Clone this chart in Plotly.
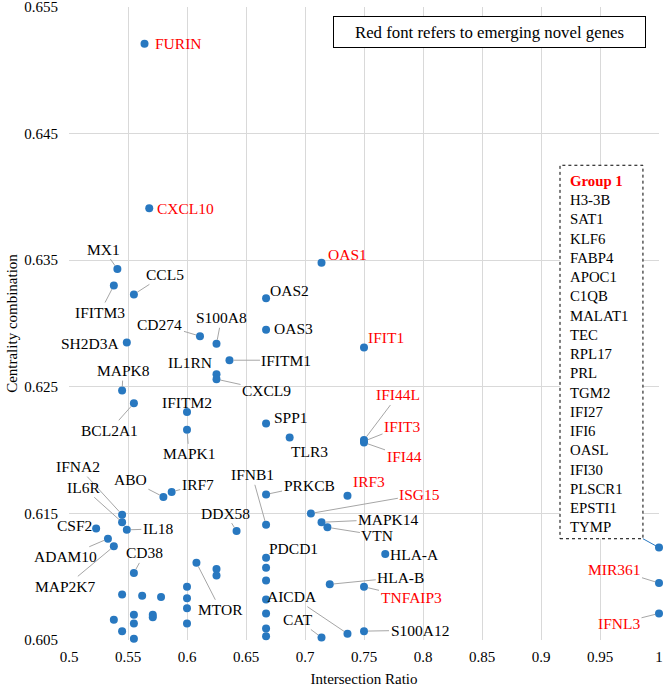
import plotly.graph_objects as go

# labelled genes: name, intersection ratio, centrality combination
genes = ["FURIN", "CXCL10", "MX1", "IFITM3", "CCL5", "OAS1", "OAS2", "OAS3",
         "CD274", "S100A8", "SH2D3A", "IFIT1", "IFITM1", "IL1RN", "CXCL9",
         "MAPK8", "BCL2A1", "IFITM2", "SPP1", "MAPK1", "TLR3", "IFI44L",
         "IFIT3", "IFI44", "ABO", "IRF7", "PRKCB", "IRF3", "IFNA2", "IL6R",
         "ISG15", "IL18", "CSF2", "IFNB1", "MAPK14", "VTN", "DDX58", "ADAM10",
         "MAP2K7", "HLA-A", "PDCD1", "MTOR", "CD38", "HLA-B", "TNFAIP3",
         "AICDA", "S100A12", "CAT", "MIR361", "IFNL3"]
ratio = [0.564, 0.568, 0.541, 0.538, 0.555, 0.714, 0.667, 0.667,
         0.611, 0.625, 0.549, 0.750, 0.636, 0.625, 0.625,
         0.545, 0.555, 0.600, 0.667, 0.600, 0.687, 0.750,
         0.750, 0.750, 0.580, 0.587, 0.667, 0.736, 0.545, 0.545,
         0.705, 0.549, 0.523, 0.667, 0.714, 0.719, 0.642, 0.533,
         0.538, 0.768, 0.667, 0.608, 0.555, 0.721, 0.750,
         0.736, 0.750, 0.714, 1.0, 1.0]
centrality = [0.6521, 0.6391, 0.6343, 0.6330, 0.6323, 0.6348, 0.6320, 0.6295,
              0.6290, 0.6284, 0.6285, 0.6281, 0.6271, 0.6260, 0.6256,
              0.6247, 0.6237, 0.6230, 0.6221, 0.6216, 0.6210, 0.6208,
              0.6207, 0.6206, 0.6163, 0.6167, 0.6165, 0.6164, 0.6149, 0.6143,
              0.6150, 0.6137, 0.6138, 0.6141, 0.6143, 0.6139, 0.6136, 0.6130,
              0.6124, 0.6118, 0.6115, 0.6111, 0.6103, 0.6094, 0.6092,
              0.6055, 0.6057, 0.6052, 0.6095, 0.6071]
novel = ["FURIN", "CXCL10", "OAS1", "IFIT1", "IFI44L", "IFIT3", "IFI44",
         "IRF3", "ISG15", "TNFAIP3", "MIR361", "IFNL3"]

# unlabelled genes
other_ratio = [0.625, 0.625, 0.667, 0.667, 0.667, 0.667, 0.667, 0.667,
               0.545, 0.562, 0.578, 0.600, 0.600, 0.600, 0.600, 0.538,
               0.555, 0.555, 0.571, 0.571, 0.545, 0.555]
other_centrality = [0.6106, 0.6101, 0.6107, 0.6097, 0.6082, 0.6071, 0.6059, 0.6053,
                    0.6086, 0.6085, 0.6084, 0.6092, 0.6083, 0.6075, 0.6063, 0.6066,
                    0.6070, 0.6063, 0.6070, 0.6068, 0.6057, 0.6051]

# group 1 point (genes sharing the same position)
group_ratio = 1.0
group_centrality = 0.6123
group_genes = ["H3-3B", "SAT1", "KLF6", "FABP4", "APOC1", "C1QB", "MALAT1",
               "TEC", "RPL17", "PRL", "TGM2", "IFI27", "IFI6", "OASL", "IFI30",
               "PLSCR1", "EPSTI1", "TYMP"]

# label offsets in pixels (dx, dy), and whether a leader line is drawn
label_pos = {
    "FURIN": (34, 0, False), "CXCL10": (36, 0, False), "MX1": (-14, -20, True),
    "IFITM3": (-14, 27, True), "CCL5": (31, -20, True), "OAS1": (26, -8, False),
    "OAS2": (23, -8, False), "OAS3": (27, -1, False), "CD274": (-40, -12, True),
    "S100A8": (5, -26, True), "SH2D3A": (-36, 1, False), "IFIT1": (22, -10, False),
    "IFITM1": (57, 0, True), "IL1RN": (-27, -12, False), "CXCL9": (50, 11, True),
    "MAPK8": (1, -20, True), "BCL2A1": (-24, 27, True), "IFITM2": (0, -10, False),
    "SPP1": (25, -6, False), "MAPK1": (2, 24, True), "TLR3": (20, 14, False),
    "IFI44L": (34, -45, True), "IFIT3": (38, -15, True), "IFI44": (40, 14, True),
    "ABO": (-33, -17, True), "IRF7": (26, -7, True), "PRKCB": (43, -9, True),
    "IRF3": (22, -14, False), "IFNA2": (-44, -48, True), "IL6R": (-39, -35, True),
    "ISG15": (109, -19, True), "IL18": (31, -1, True), "CSF2": (-22, -3, False),
    "IFNB1": (-14, -50, True), "MAPK14": (67, -3, True), "VTN": (50, 8, True),
    "DDX58": (-11, -18, True), "ADAM10": (-42, 18, True), "MAP2K7": (-48, 40, True),
    "HLA-A": (29, 1, False), "PDCD1": (27, -9, False), "MTOR": (24, 47, True),
    "CD38": (11, -20, True), "HLA-B": (71, -7, True), "TNFAIP3": (47, 11, True),
    "AICDA": (-55, -37, True), "S100A12": (56, -1, True), "CAT": (-24, -18, True),
    "MIR361": (-45, -14, True), "IFNL3": (-40, 10, True),
}

blue = "#2878C0"
font = "Times New Roman, Liberation Serif, DejaVu Serif, serif"

fig = go.Figure()
fig.add_trace(go.Scatter(
    x=ratio + other_ratio + [group_ratio],
    y=centrality + other_centrality + [group_centrality],
    mode="markers",
    marker=dict(color=blue, size=8),
    cliponaxis=False,
    hoverinfo="skip",
))

for g, xv, yv in zip(genes, ratio, centrality):
    dx, dy, leader = label_pos[g]
    color = "#FF0000" if g in novel else "#000000"
    if leader:
        fig.add_annotation(x=xv, y=yv, text=g, showarrow=True, ax=dx, ay=dy,
                           arrowhead=0, arrowwidth=1, arrowcolor="#A6A6A6",
                           standoff=4, font=dict(family=font, size=15.5, color=color))
    else:
        fig.add_annotation(x=xv, y=yv, text=g, showarrow=False,
                           xshift=dx, yshift=-dy,
                           font=dict(family=font, size=15.5, color=color))

# group 1 box
fig.add_shape(type="rect", x0=0.9161, x1=0.9864, y0=0.6130, y1=0.6425,
              line=dict(color="#000000", width=1, dash="dot"), fillcolor="white",
              layer="above")
fig.add_shape(type="line", x0=0.9864, y0=0.6130, x1=group_ratio, y1=group_centrality,
              line=dict(color=blue, width=1))
group_text = "<span style='color:#FF0000'><b>Group 1</b></span><br>" + "<br>".join(group_genes)
fig.add_annotation(xref="paper", yref="paper", x=0.8458, y=0.7417,
                   xanchor="left", yanchor="top", align="left", showarrow=False,
                   text=group_text, font=dict(family=font, size=14.8, color="#000000"))

# note box
fig.add_annotation(x=0.856, y=0.6530, text="Red font refers to emerging novel genes",
                   showarrow=False, width=309, height=28, borderpad=1,
                   bordercolor="#000000", borderwidth=1, bgcolor="white",
                   font=dict(family=font, size=16.8, color="#000000"))

fig.update_layout(
    width=664, height=687,
    margin=dict(l=69, r=5, t=7, b=47),
    paper_bgcolor="white", plot_bgcolor="white",
    showlegend=False,
    font=dict(family=font, size=15, color="#000000"),
)
fig.update_xaxes(range=[0.5, 1.0], dtick=0.05, tick0=0.5, showgrid=True,
                 gridcolor="#D9D9D9", zeroline=False, showline=False, automargin=False,
                 ticklabelstandoff=6, ticklabeloverflow="allow", tickfont=dict(size=15),
                 title=dict(text="Intersection Ratio", font=dict(size=15), standoff=10))
fig.update_yaxes(range=[0.605, 0.655], dtick=0.01, tick0=0.605, showgrid=True,
                 gridcolor="#D9D9D9", zeroline=False, showline=False, automargin=False,
                 tickformat=".3f", ticklabelstandoff=10, ticklabeloverflow="allow",
                 tickfont=dict(size=15),
                 title=dict(text="Centrality combination", font=dict(size=15), standoff=3))

# page body has a default margin; drop it so the figure sits at the window corner
fig.write_html("out.html", config={"displayModeBar": False},
               post_script="document.body.style.margin='0';")
